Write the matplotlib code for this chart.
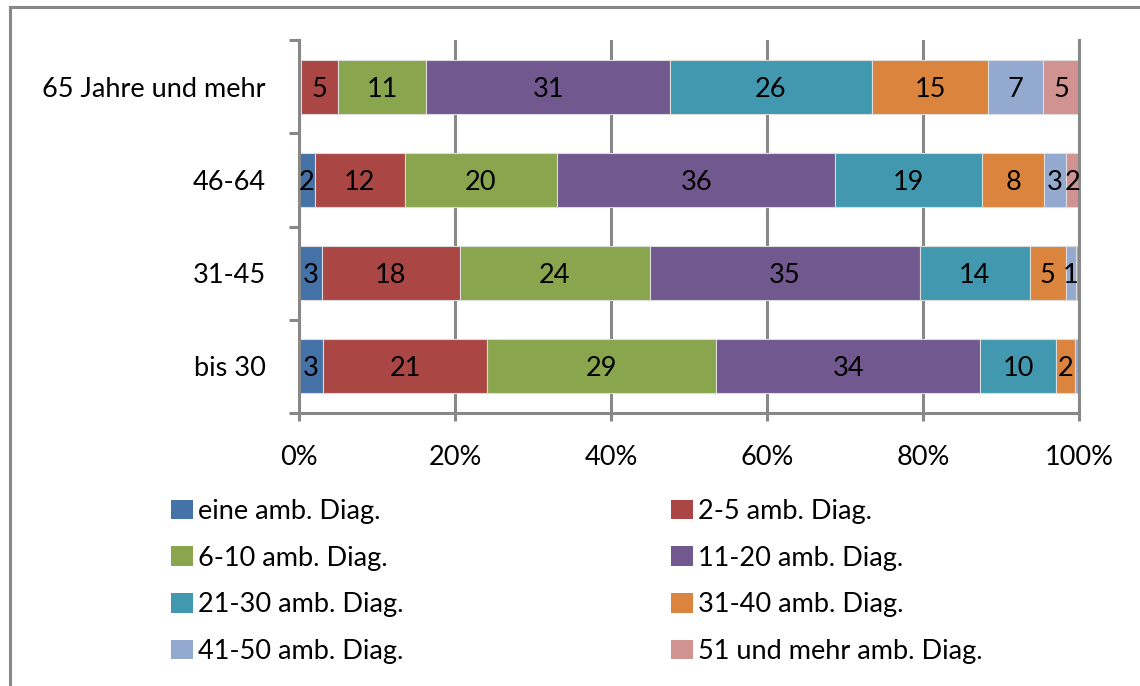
import matplotlib
matplotlib.use("Agg")
import matplotlib.pyplot as plt
from matplotlib.patches import Patch
from matplotlib.lines import Line2D
import numpy as np

plt.rcParams['font.family'] = ['Lato', 'DejaVu Sans']

# Age groups, listed top to bottom
categories = ['65 Jahre und mehr', '46-64', '31-45', 'bis 30']

# Share of patients (%) by number of ambulatory diagnoses
series_names = ['eine amb. Diag.', '2-5 amb. Diag.', '6-10 amb. Diag.', '11-20 amb. Diag.',
                '21-30 amb. Diag.', '31-40 amb. Diag.', '41-50 amb. Diag.', '51 und mehr amb. Diag.']
eine = [0.3, 2.0, 2.9, 3.1]
d2_5 = [4.7, 11.6, 17.7, 21.0]
d6_10 = [11.4, 19.7, 24.4, 29.4]
d11_20 = [31.4, 35.8, 34.7, 33.8]
d21_30 = [26.0, 18.9, 14.1, 9.8]
d31_40 = [15.0, 8.0, 4.6, 2.4]
d41_50 = [7.1, 2.8, 1.3, 0.5]
d51_plus = [4.6, 1.7, 0.4, 0.0]

colors = ['#4572A7', '#AA4643', '#89A54E', '#71588F', '#4198AF', '#DB843D', '#93A9CF', '#D19392']
xticks = [0, 20, 40, 60, 80, 100]
xticklabels = ['0%', '20%', '40%', '60%', '80%', '100%']

W, H = 1140, 686
fig = plt.figure(figsize=(W / 100, H / 100), dpi=100)
fig.patch.set_facecolor('white')

grey = '#888888'
lw = 2.2
fs = 19.5

ax = fig.add_axes([299 / W, 1 - 413 / H, 780 / W, (413 - 40) / H])

data = np.array([eine, d2_5, d6_10, d11_20, d21_30, d31_40, d41_50, d51_plus])
totals = data.sum(axis=0)
shares = data / totals * 100.0   # 100 % stacked

y = np.arange(len(categories))
left = np.zeros(len(categories))
for raw, share, col, name in zip(data, shares, colors, series_names):
    ax.barh(y, share, left=left, height=0.58, color=col, edgecolor='#dcdcdc',
            linewidth=0.8, label=name, zorder=2)
    for yi, (v, s, l0) in enumerate(zip(raw, share, left)):
        if round(v) >= 1:
            ax.text(l0 + s / 2, yi, f'{round(v):d}', ha='center', va='center_baseline',
                    fontsize=fs, color='black', zorder=3)
    left += share

ax.set_xlim(0, 100)
ax.set_ylim(len(categories) - 0.5, -0.5)

ax.set_xticks(xticks)
ax.set_xticklabels(xticklabels, fontsize=fs)
ax.set_yticks(y)
ax.set_yticklabels(categories, fontsize=fs, va='center_baseline')
ax.set_yticks(np.arange(-0.5, len(categories)), minor=True)

ax.tick_params(axis='x', which='major', direction='out', length=6, width=lw,
               color=grey, pad=17)
ax.tick_params(axis='y', which='major', length=0, pad=24)
ax.tick_params(axis='y', which='minor', direction='out', length=7.5, width=lw, color=grey)

ax.xaxis.grid(True, color=grey, linewidth=lw, zorder=0)
ax.set_axisbelow(True)
for side in ['left', 'bottom', 'right']:
    ax.spines[side].set_color(grey)
    ax.spines[side].set_linewidth(lw)
ax.spines['top'].set_visible(False)

# Legend: two columns, filled row by row
handles = [Patch(facecolor=c, edgecolor='none') for c in colors]
common = dict(frameon=False, fontsize=fs, handlelength=0.8, handleheight=0.75,
              handletextpad=0.2, labelspacing=0.8, borderpad=0, borderaxespad=0,
              loc='upper left')
leg1 = fig.legend(handles[0::2], series_names[0::2],
                  bbox_to_anchor=(171 / W, 1 - 499 / H), **common)
leg2 = fig.legend(handles[1::2], series_names[1::2],
                  bbox_to_anchor=(671 / W, 1 - 499 / H), **common)

# Outer frame (left and top edges)
fig.add_artist(Line2D([9.5 / W, 9.5 / W], [0, 1 - 6.5 / H], transform=fig.transFigure,
                      color=grey, linewidth=2.2, solid_capstyle='projecting'))
fig.add_artist(Line2D([9.5 / W, 1], [1 - 6.5 / H, 1 - 6.5 / H], transform=fig.transFigure,
                      color=grey, linewidth=2.2, solid_capstyle='projecting'))

fig.savefig('out.png', dpi=100, facecolor='white')
